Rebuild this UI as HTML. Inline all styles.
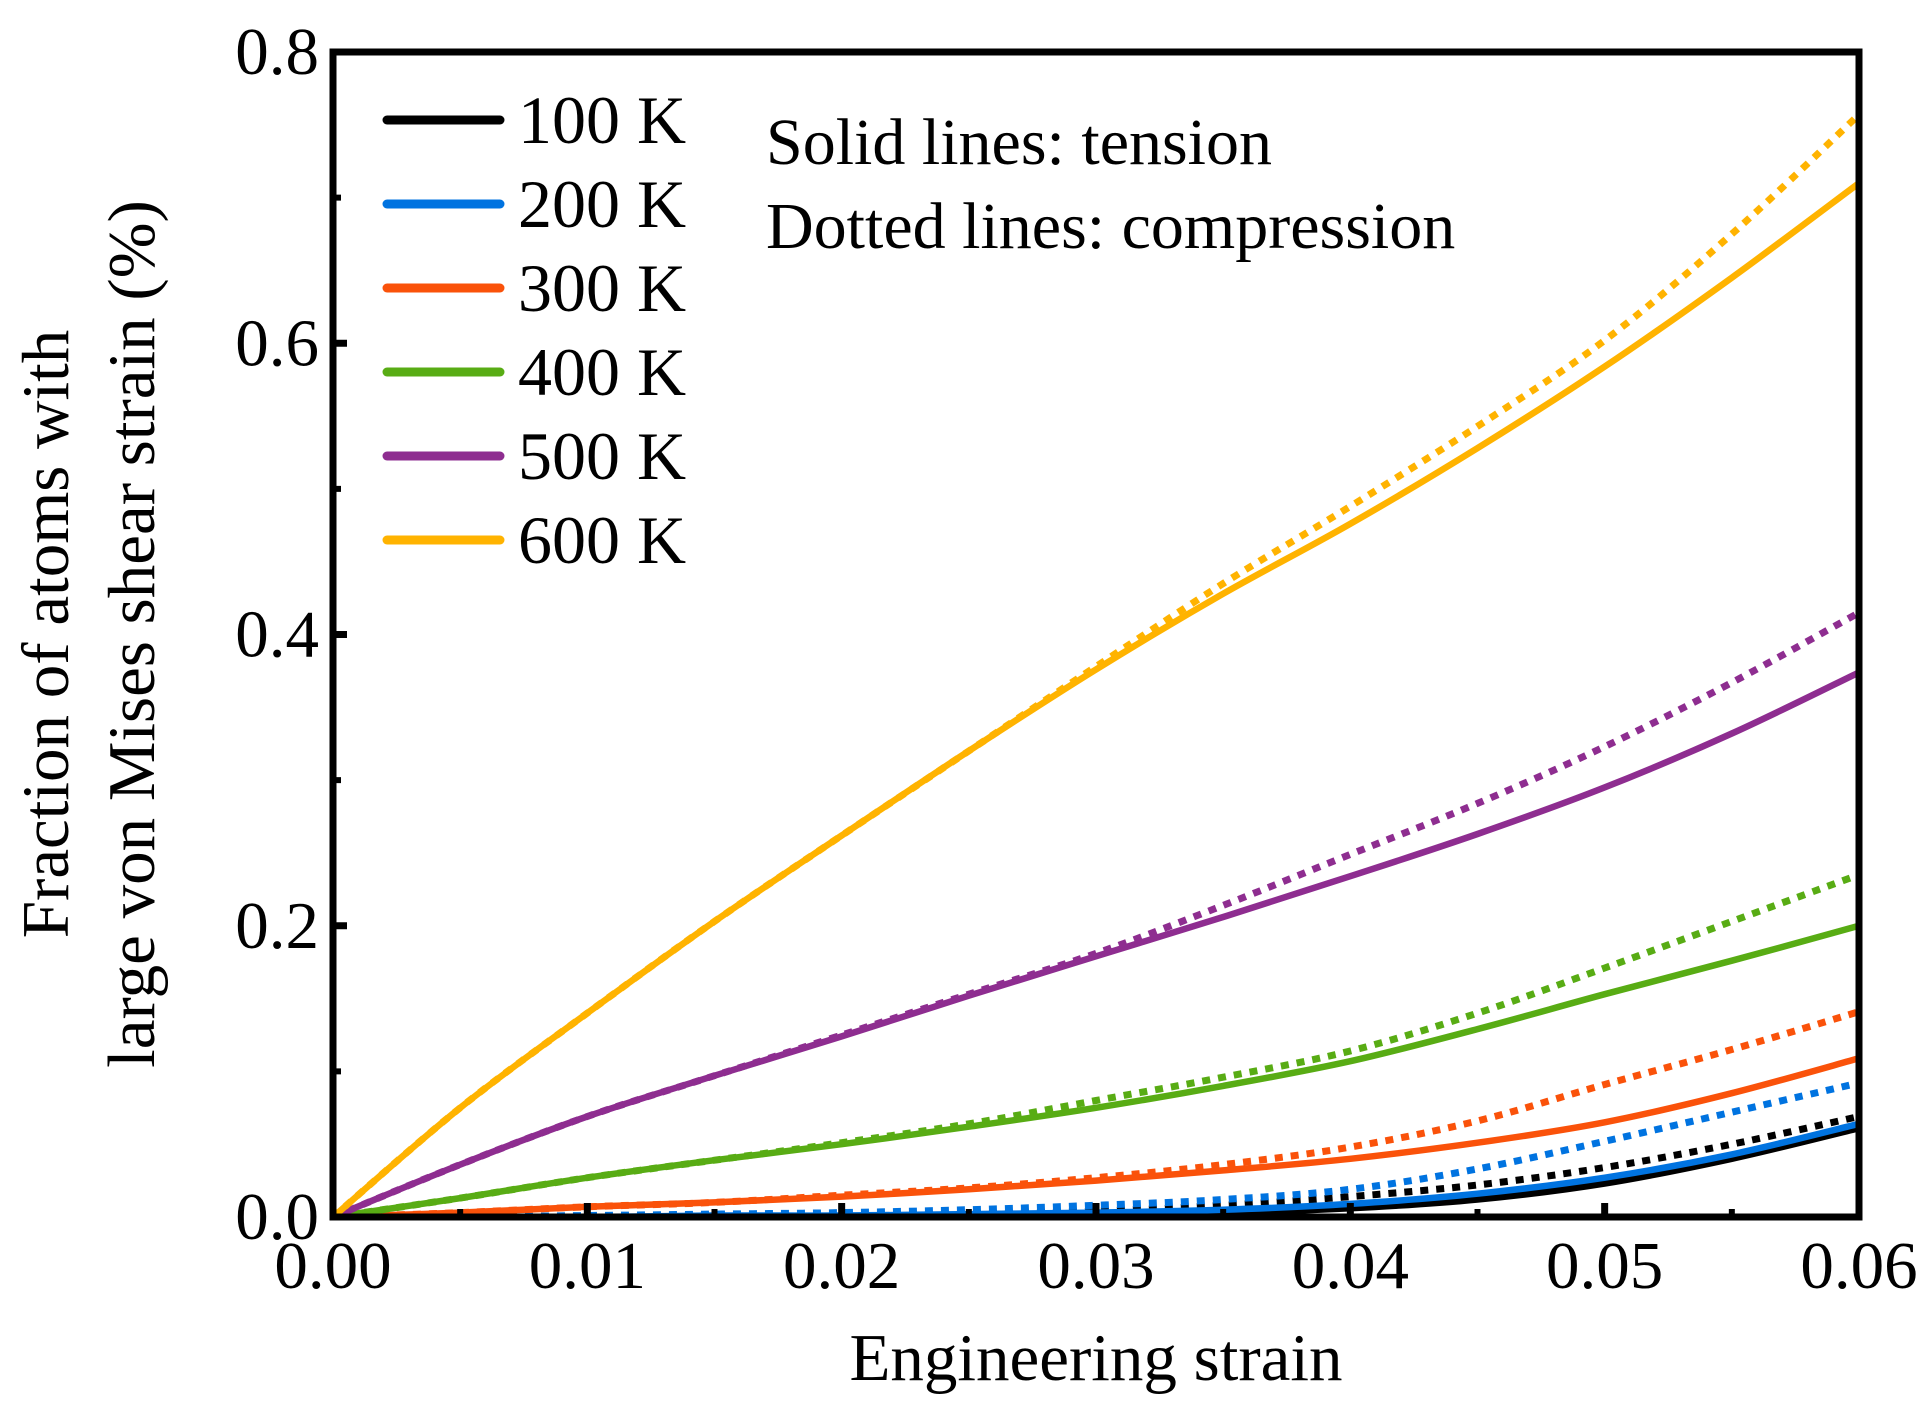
<!DOCTYPE html>
<html><head><meta charset="utf-8"><style>
html,body{margin:0;padding:0;background:#fff;}
svg{display:block;font-family:"Liberation Serif",serif;}
</style></head><body>
<svg id="chart" width="1931" height="1419" viewBox="0 0 1931 1419" xmlns="http://www.w3.org/2000/svg">
<g id="series"></g>
<g id="axes"></g>
<text x="1096" y="1380" font-size="67" text-anchor="middle">Engineering strain</text>
<g transform="translate(68,634) rotate(-90)">
<text x="0" y="0" font-size="67" text-anchor="middle">Fraction of atoms with</text>
<text x="0" y="86" font-size="67" text-anchor="middle">large von Mises shear strain (%)</text>
</g>
<text x="766" y="164" font-size="66">Solid lines: tension</text>
<text x="766" y="248" font-size="66">Dotted lines: compression</text>
<g id="legend"></g>
</svg>
<script>
const xValues = [0,0.005,0.01,0.015,0.02,0.025,0.03,0.035,0.04,0.045,0.05,0.055,0.06];
const temps = ["100 K","200 K","300 K","400 K","500 K","600 K"];
const colors = ["#000000","#0073e0","#fa520a","#58ac14","#8e2d90","#ffb300"];
const tension100 = [0,0,0,0,0,0.001,0.002,0.003,0.006,0.012,0.023,0.04,0.061];
const compress100 = [0,0,0,0.001,0.001,0.002,0.004,0.008,0.014,0.022,0.034,0.05,0.069];
const tension200 = [0,0,0,0.001,0.001,0.002,0.003,0.005,0.009,0.016,0.027,0.043,0.064];
const compress200 = [0,0,0.001,0.002,0.003,0.005,0.008,0.012,0.019,0.033,0.052,0.072,0.092];
const tension300 = [0,0.003,0.007,0.010,0.014,0.019,0.025,0.032,0.040,0.051,0.065,0.085,0.109];
const compress300 = [0,0.003,0.007,0.010,0.015,0.020,0.027,0.036,0.048,0.066,0.091,0.115,0.141];
const tension400 = [0,0.013,0.027,0.039,0.05,0.062,0.075,0.09,0.107,0.129,0.153,0.176,0.2];
const compress400 = [0,0.013,0.027,0.039,0.051,0.064,0.08,0.096,0.114,0.14,0.171,0.203,0.235];
const tension500 = [0,0.036,0.069,0.097,0.124,0.152,0.179,0.206,0.234,0.263,0.295,0.332,0.374];
const compress500 = [0,0.036,0.069,0.097,0.125,0.153,0.181,0.214,0.249,0.284,0.323,0.367,0.415];
const tension600 = [0,0.075,0.14,0.203,0.262,0.32,0.376,0.428,0.476,0.528,0.584,0.645,0.71];
const compress600 = [0,0.075,0.14,0.203,0.262,0.32,0.378,0.435,0.488,0.543,0.602,0.675,0.757];
const xTicks = [0,0.01,0.02,0.03,0.04,0.05,0.06];
const xTickLabels = ["0.00","0.01","0.02","0.03","0.04","0.05","0.06"];
const yTicks = [0,0.2,0.4,0.6,0.8];
const yTickLabels = ["0.0","0.2","0.4","0.6","0.8"];

const NS="http://www.w3.org/2000/svg";
const L=333,R=1859,T=52,B=1217;
const xs=v=>L+(v-0)/(0.06)*(R-L);
const ys=v=>B-(v-0)/(0.8)*(B-T);
function mk(tag,attrs,parent){const e=document.createElementNS(NS,tag);for(const k in attrs)e.setAttribute(k,attrs[k]);parent.appendChild(e);return e;}
const sg=document.getElementById('series');
const tens=[tension100,tension200,tension300,tension400,tension500,tension600];
const comp=[compress100,compress200,compress300,compress400,compress500,compress600];
function path(arr){
  const P=arr.map((v,i)=>[xs(xValues[i]),ys(v)]);
  let d='M'+P[0][0].toFixed(1)+','+P[0][1].toFixed(1);
  for(let i=0;i<P.length-1;i++){
    const p0=P[Math.max(i-1,0)],p1=P[i],p2=P[i+1],p3=P[Math.min(i+2,P.length-1)];
    const c1=[p1[0]+(p2[0]-p0[0])/6,p1[1]+(p2[1]-p0[1])/6];
    const c2=[p2[0]-(p3[0]-p1[0])/6,p2[1]-(p3[1]-p1[1])/6];
    c1[1]=Math.min(c1[1],B);c2[1]=Math.min(c2[1],B);
    d+=' C'+c1[0].toFixed(1)+','+c1[1].toFixed(1)+' '+c2[0].toFixed(1)+','+c2[1].toFixed(1)+' '+p2[0].toFixed(1)+','+p2[1].toFixed(1);
  }
  return d;
}
for(let i=0;i<6;i++){
  const p=mk('path',{d:path(tens[i]),fill:'none',stroke:colors[i],'stroke-width':6.5,'stroke-linejoin':'round'},sg);
  
  
  const q=mk('path',{d:path(comp[i]),fill:'none',stroke:colors[i],'stroke-width':7,'stroke-dasharray':'8 8'},sg);
  
  
}
const ag=document.getElementById('axes');
const fr=mk('rect',{x:L,y:T,width:R-L,height:B-T,fill:'none',stroke:'#000','stroke-width':7},ag);


xTicks.forEach((v,i)=>{
  const t=mk('line',{x1:xs(v),x2:xs(v),y1:B,y2:B-14,stroke:'#000','stroke-width':7},ag);
  
  
  if(i<xTicks.length-1){const m=mk('line',{x1:xs(v+0.005),x2:xs(v+0.005),y1:B,y2:B-8,stroke:'#000','stroke-width':6},ag);
  
  }
  const tx=mk('text',{x:xs(v),y:1288,'font-size':67,'text-anchor':'middle'},ag);
  tx.textContent=xTickLabels[i];
  
  
});
yTicks.forEach((v,i)=>{
  const t=mk('line',{x1:L,x2:L+14,y1:ys(v),y2:ys(v),stroke:'#000','stroke-width':7},ag);
  
  
  if(i<yTicks.length-1){const m=mk('line',{x1:L,x2:L+8,y1:ys(v+0.1),y2:ys(v+0.1),stroke:'#000','stroke-width':6},ag);
  
  }
  const tx=mk('text',{x:319,y:ys(v)+22,'font-size':67,'text-anchor':'end'},ag);
  tx.textContent=yTickLabels[i];
  
  
});
const lg=document.getElementById('legend');
temps.forEach((t,i)=>{
  const y=120+i*84;
  const g=mk('g',{},lg);
  
  
  mk('line',{x1:387,x2:500,y1:y,y2:y,stroke:colors[i],'stroke-width':9,'stroke-linecap':'round'},g);
  const tx=mk('text',{x:518,y:y+23,'font-size':68},g);
  tx.textContent=t;
});
</script>
</body></html>
